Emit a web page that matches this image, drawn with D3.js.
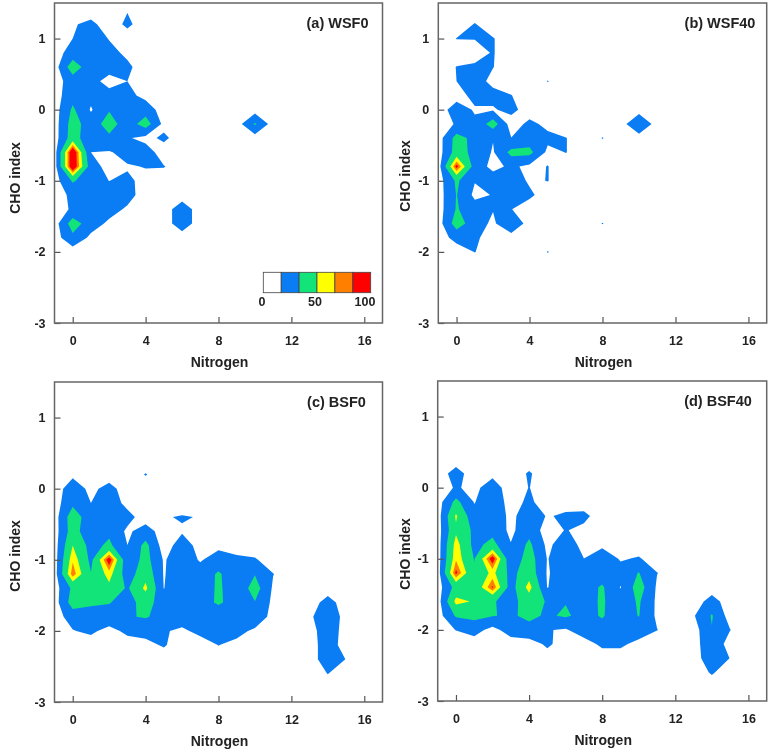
<!DOCTYPE html>
<html><head><meta charset="utf-8">
<script src="https://cdn.jsdelivr.net/npm/d3@7"></script>
<style>html,body{margin:0;padding:0;background:#fff}svg{display:block;filter:blur(0.45px)}
text{font-family:"Liberation Sans",Arial,sans-serif;font-weight:bold;fill:#222}</style>
</head><body><svg id="c" width="770" height="753"></svg>
<script>
// Rows run from CHO index 1.4 down to -2.8 in steps of 0.2; columns are Nitrogen 0,1,2,... (missing = 0)
const choRows = d3.range(0, 22).map(i => +(1.4 - i * 0.2).toFixed(1));
const nitrogenColumns = d3.range(-1, 18);
const xTicks = [0, 4, 8, 12, 16];
const yTicks = [1, 0, -1, -2, -3];
const levelThresholds = [10, 33, 58, 72, 82];
const levelColors = ["#0a7cf4", "#12e47a", "#ffff00", "#ff8000", "#ff0000"];
const legendColors = ["#ffffff", ...levelColors];
const legendLabels = ["0", "50", "100"];

const wsf0 = [
 [0,0,0,9],
 [8,15,0,14],
 [10,22,9],
 [20,20,16,6],
 [47,18,16,14],
 [21,15,5,10],
 [25,16,15,16,4],
 [37,8,31,20,22],
 [44,20,44,20,45,4,0,0,0,0,36],
 [46,14,28,12,4,14],
 [100,10,8,18,20,0],
 [100,20,2,8,11,11],
 [36,18,9.8,14,4],
 [15,20,20,18],
 [13,20,18,7,0,0,22],
 [45,20,6,0,0,0,22],
 [27,5],
 [],[],[],[],[]];
const wsf40 = [
 [],
 [0,11,0],
 [10.5,10.5,11],
 [0,5,11],
 [10.5,12,10.5],
 [10,18,5,0,0,10.6],
 [2,16,16,10.5],
 [20,8,8,16],
 [12,14,45,0,15,5,0,0,0,0,32],
 [42,26,11,10.5,20,15,10.5,0,10.6],
 [44,26,8,40,40,5,10.5],
 [88,22,4,14,5,10.5],
 [37,11,21,22,7,10.5],
 [34,5,11,22,14],
 [35,20,11,10.5],
 [45,20,6,30,0,0,0,0,10.6],
 [17,14],
 [0,10.5,0,0,0,10.6],
 [],[],[],[]];
const bsf0 = [
 [],[],[],[],[],[],
 [6,0,0,0,11],
 [21,5,17,0,0,0,6],
 [28,10,22,4],
 [47,18,24,17,0,8.5,11.5,9],
 [45,14,28,6,20,0,8],
 [58,24,38,10.2,40,0,20,3,5],
 [70,27,92,15,42,8,22,8,20,15,12],
 [80,34,66,20,50,8.5,24,20,36,18,32,10.5],
 [38,40,52,30,63,9.5,25,15,38,15,44,7],
 [44,36,34,25,42,22,24,24,36,24,32,5,0,0,18],
 [20,25,25,31,35,25,22,24,20,22,30,0,0,5,30],
 [9,14,3,15,16,12,6,16,25,18,5,0,0,0,25],
 [0,0,0,0,5,12,0,0,10.5,3,0,0,0,0,22],
 [0,0,0,0,0,0,0,0,0,0,0,0,0,0,22,9.5],
 [0,0,0,0,0,0,0,0,0,0,0,0,0,0,10.5],
 []];
const bsf40 = [
 [],[],[],[],[],[],
 [18,0,5,0,12],
 [12,5,20,0,10.5],
 [40,9,24,2,14],
 [61,16,30,3,26,8,14,15],
 [54,28,26,5,25,0,11,5],
 [66,26,40,11,38,5,22,3,5],
 [70,32,92,14,45,9,24,10.2,24,8,12],
 [86,36,64,25,48,8,22,20,20,18,34,10.5],
 [42,40,84,22,66,9,26,22,36,9,45,7],
 [64,56,35,25,45,31,32,24,36,18,36,6,0,0,18],
 [36,40,34,30,38,30,36,26,35,20,34,6,0,8,35],
 [10.5,18,3,20,26,11,8,20,25,22,22,10.5,0,0,32,10.5],
 [0,0,0,0,0,14,0,2,14,14,4,0,0,0,28],
 [0,0,0,0,0,0,0,0,0,0,0,0,0,0,24,9.5],
 [0,0,0,0,0,0,0,0,0,0,0,0,0,0,12],
 []];

const panels = [
 {title:"(a) WSF0",  rows:wsf0,  l:54.5,  r:382.5, t:3,   b:323, titleX:337.5, yTitleGap:34.5, yTitleShift:15, legend:true},
 {title:"(b) WSF40", rows:wsf40, l:438.3, r:766.7, t:3,   b:323, titleX:720,   yTitleGap:28,   yTitleShift:13},
 {title:"(c) BSF0",  rows:bsf0,  l:54.5,  r:382.5, t:382, b:702, titleX:336.5, yTitleGap:34.5, yTitleShift:14},
 {title:"(d) BSF40", rows:bsf40, l:437.7, r:766.7, t:381, b:701, titleX:718,   yTitleGap:28,   yTitleShift:13}
];
const svg = d3.select("#c");
panels.forEach((p, pi) => {
  const x = d3.scaleLinear().domain([-1, 17]).range([p.l, p.r]);
  const y = d3.scaleLinear().domain([-3, 1.5]).range([p.b, p.t]);
  const g = svg.append("g");
  const values = p.rows.flatMap(r => nitrogenColumns.map(n => (n >= 0 && r[n]) || 0));
  const contours = d3.contours().size([nitrogenColumns.length, choRows.length]).thresholds(levelThresholds)(values);
  const proj = d3.geoTransform({point(cx, cy){
    this.stream.point(x(nitrogenColumns[0] + (cx - 0.5)), y(choRows[0] - (cy - 0.5) * 0.2));
  }});
  g.selectAll("path.c").data(contours).join("path").attr("class","c")
    .attr("d", d3.geoPath(proj)).attr("fill", (d,i) => levelColors[i]).attr("stroke","none");
  const xa = d3.axisBottom(x).tickValues(xTicks).tickSize(-6).tickPadding(13);
  const ya = d3.axisLeft(y).tickValues(yTicks).tickSize(-6).tickPadding(9).tickFormat(d3.format("d"));
  const ax = g.append("g").attr("transform",`translate(0,${p.b})`).call(xa);
  const ay = g.append("g").attr("transform",`translate(${p.l},0)`).call(ya);
  [ax, ay].forEach(a => {
    a.select(".domain").remove();
    a.selectAll("line").attr("stroke","#555").attr("stroke-width",1.2);
    a.selectAll("text").style("font-size","12.5px");
  });
  ay.selectAll("text").text(d => d < 0 ? "-" + Math.abs(d) : d);
  g.append("rect").attr("x",p.l).attr("y",p.t).attr("width",p.r-p.l).attr("height",p.b-p.t)
    .attr("fill","none").attr("stroke","#666").attr("stroke-width",1.5);
  g.append("text").attr("x",(p.l+p.r)/2+1).attr("y",p.b+44).attr("text-anchor","middle").style("font-size","14px").text("Nitrogen");
  g.append("text").attr("transform",`translate(${p.l-p.yTitleGap},${(p.t+p.b)/2+p.yTitleShift}) rotate(-90)`).attr("text-anchor","middle").style("font-size","14px").text("CHO index");
  g.append("text").attr("x",p.titleX).attr("y",p.t+25).attr("text-anchor","middle").style("font-size","14.5px").text(p.title);
  if (p.legend) {
    const lx = d3.scaleBand().domain(legendColors).range([263.3, 370.7]);
    g.selectAll("rect.l").data(legendColors).join("rect").attr("class","l")
      .attr("x",d=>lx(d)).attr("y",272.3).attr("width",lx.bandwidth()).attr("height",20.4)
      .attr("fill",d=>d).attr("stroke","#444").attr("stroke-width",0.8);
    const tx = d3.scalePoint().domain(legendLabels).range([262, 365]);
    g.selectAll("text.l").data(legendLabels).join("text").attr("class","l")
      .attr("x",d=>d==="50"?315:tx(d)).attr("y",306).attr("text-anchor","middle").style("font-size","12.5px").text(d=>d);
  }
});
</script></body></html>
